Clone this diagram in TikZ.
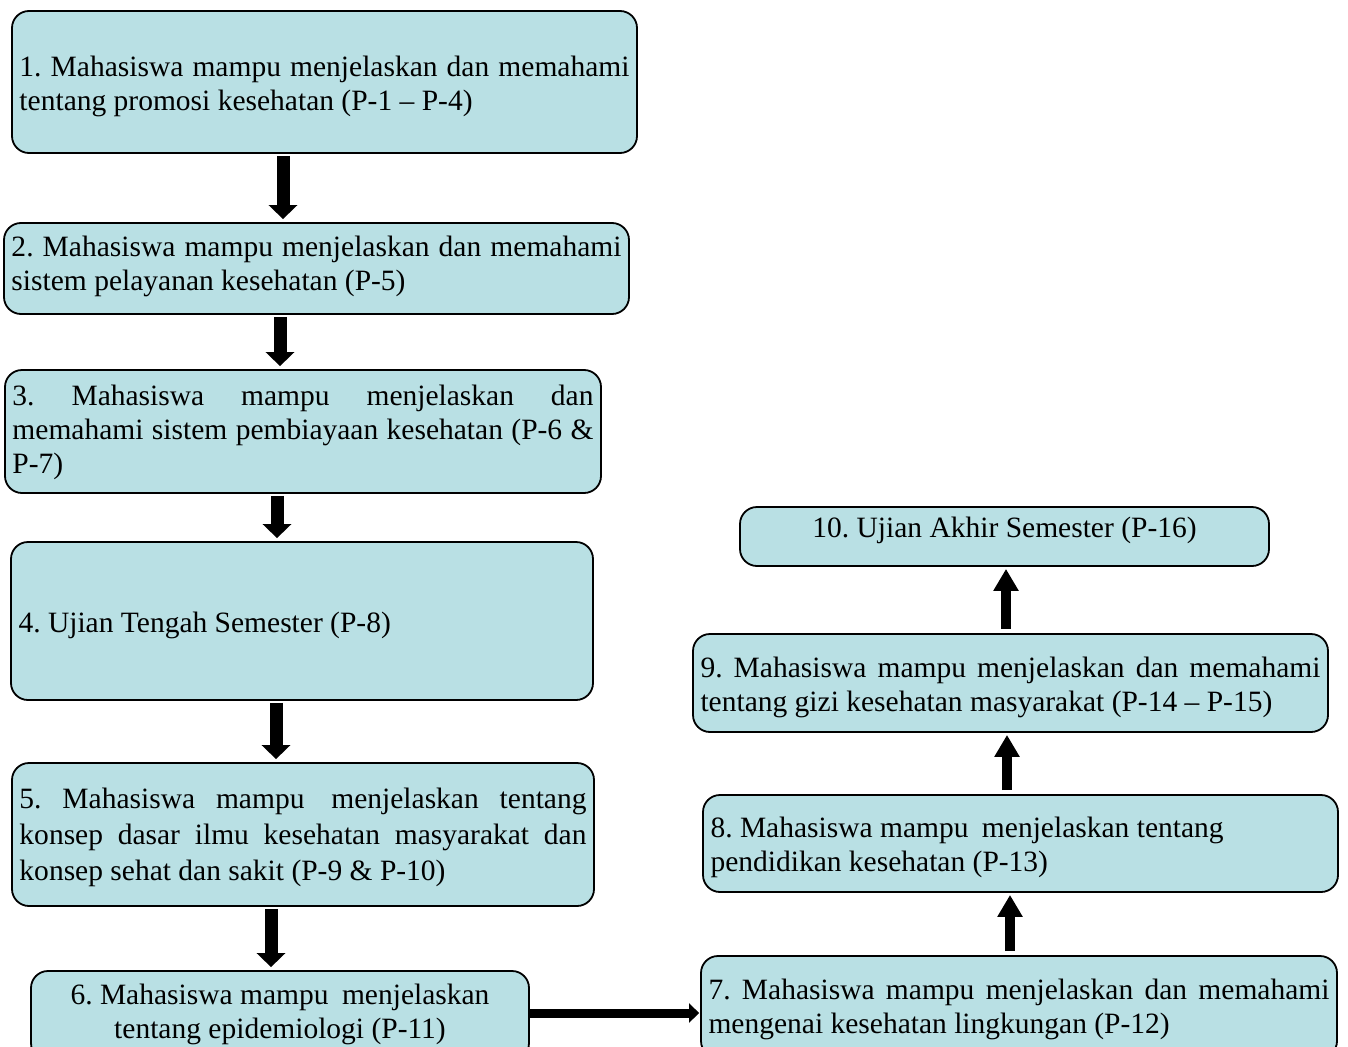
\documentclass[tikz,border=0pt]{standalone}
\usepackage{fontspec}
\setmainfont{Liberation Serif}
\usetikzlibrary{arrows.meta}
\definecolor{boxfill}{RGB}{185,224,228}
% #1 alignment, #2 width, #3 downward text offset, #4 text
\newcommand\boxtext[4][]{\raisebox{0pt}[\dimexpr\height+#3\relax][\dimexpr\depth-#3\relax]{\parbox[c]{#2}{#1#4}}}
\begin{document}
\frenchspacing
\begin{tikzpicture}[x=1pt,y=-1pt,
  box/.style={draw=black, line width=1.8pt, fill=boxfill, rounded corners=17pt,
    inner xsep=7.5pt, inner ysep=0pt, font=\fontsize{29.5}{34}\selectfont\frenchspacing},
  downarr/.style={line width=13pt, -{Triangle[length=14pt,width=28pt]}, shorten <=2pt, shorten >=3pt},
  uparr/.style={line width=10pt, -{Triangle[length=22pt,width=24pt]}, shorten <=4pt, shorten >=2pt},
  sidearr/.style={line width=9pt, -{Triangle[length=10pt,width=19pt]}, shorten >=1pt}]
\useasboundingbox (0,0) rectangle (1348,1046);
\clip (0,0) rectangle (1348,1046);

\node[box, minimum width=625pt, minimum height=142pt] (n1) at (324.5,82)
 {\boxtext{610pt}{4pt}{1. Mahasiswa mampu menjelaskan dan memahami\linebreak tentang promosi kesehatan (P-1 – P-4)}};
\node[box, minimum width=625pt, minimum height=91pt] (n2) at (316.5,268.5)
 {\boxtext{610pt}{-2pt}{2. Mahasiswa mampu menjelaskan dan memahami\linebreak sistem pelayanan kesehatan (P-5)}};
\node[box, minimum width=596pt, minimum height=123pt] (n3) at (303,431.5)
 {\boxtext{581pt}{1pt}{3. Mahasiswa mampu menjelaskan dan\linebreak memahami sistem pembiayaan kesehatan (P-6 \&\linebreak P-7)}};
\node[box, minimum width=582pt, minimum height=158pt] (n4) at (302,621)
 {\boxtext[\raggedright]{567pt}{4pt}{4. Ujian Tengah Semester (P-8)}};
\node[box, minimum width=582pt, minimum height=143pt, font=\fontsize{29.5}{36}\selectfont\frenchspacing] (n5) at (303,834.5)
 {\boxtext{567pt}{3pt}{5. Mahasiswa mampu\hspace{6pt} menjelaskan tentang\linebreak konsep dasar ilmu kesehatan masyarakat dan\linebreak konsep sehat dan sakit (P-9 \& P-10)}};
\node[box, minimum width=498pt, minimum height=89pt] (n6) at (280,1015.5)
 {\boxtext[\centering]{483pt}{-1pt}{6. Mahasiswa mampu\hspace{6pt} menjelaskan\\ tentang epidemiologi (P-11)}};
\node[box, minimum width=636pt, minimum height=102pt] (n7) at (1019,1007)
 {\boxtext{621pt}{2pt}{7. Mahasiswa mampu menjelaskan dan memahami\linebreak mengenai kesehatan lingkungan (P-12)}};
\node[box, minimum width=635pt, minimum height=97pt] (n8) at (1020.5,843.5)
 {\boxtext[\raggedright]{620pt}{4pt}{8. Mahasiswa mampu\hspace{6pt} menjelaskan tentang\\ pendidikan kesehatan (P-13)}};
\node[box, minimum width=635pt, minimum height=98pt] (n9) at (1010.5,683)
 {\boxtext{620pt}{4pt}{9. Mahasiswa mampu menjelaskan dan memahami\linebreak tentang gizi kesehatan masyarakat (P-14 – P-15)}};
\node[box, minimum width=529pt, minimum height=59pt] (n10) at (1004.5,536.5)
 {\raisebox{0pt}[\dimexpr\height-6pt\relax][\dimexpr\depth+6pt\relax]{10. Ujian Akhir Semester (P-16)}};

\draw[downarr] ([xshift=-41.5pt]n1.south) -- ([xshift=-33.5pt]n2.north);
\draw[downarr] ([xshift=-36.5pt]n2.south) -- ([xshift=-23pt]n3.north);
\draw[downarr] ([xshift=-26pt]n3.south) -- ([xshift=-25pt]n4.north);
\draw[downarr] ([xshift=-26pt]n4.south) -- ([xshift=-27pt]n5.north);
\draw[downarr] ([xshift=-32pt]n5.south) -- ([xshift=-9pt]n6.north);
\draw[sidearr] ([yshift=2.5pt]n6.east) -- ([yshift=-6pt]n7.west);
\draw[uparr] ([xshift=-9pt]n7.north) -- ([xshift=-10.5pt]n8.south);
\draw[uparr] ([xshift=-13.5pt]n8.north) -- ([xshift=-3.5pt]n9.south);
\draw[uparr] ([xshift=-4.5pt]n9.north) -- ([xshift=1.5pt]n10.south);
\end{tikzpicture}
\end{document}
